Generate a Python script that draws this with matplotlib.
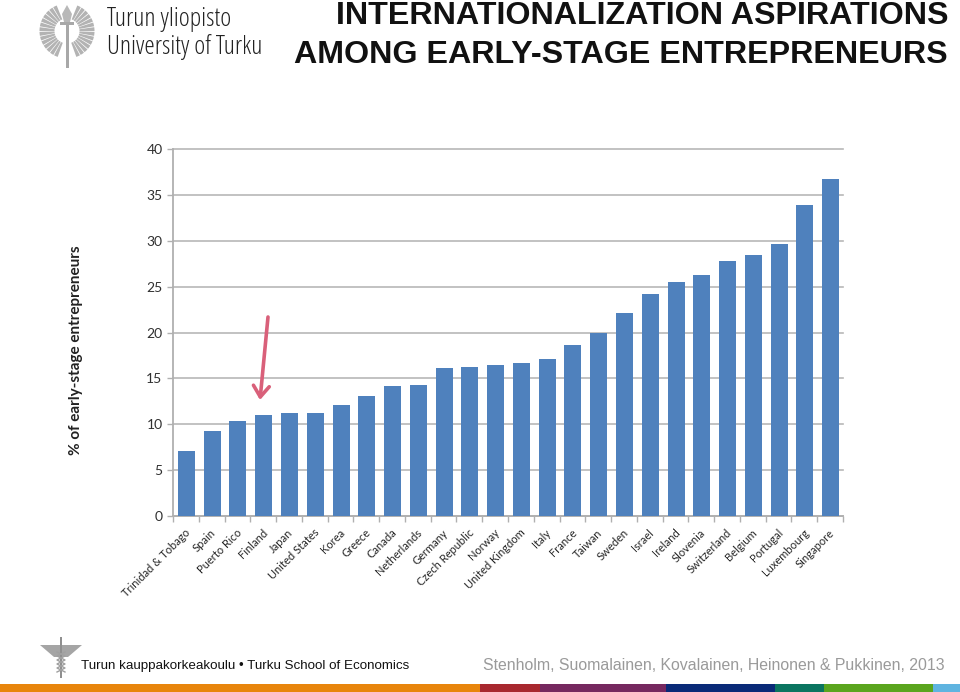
import numpy as np
import matplotlib
matplotlib.use("Agg")
import matplotlib.pyplot as plt
from matplotlib.patches import Rectangle, Wedge, FancyArrowPatch, Polygon

countries = ["Trinidad & Tobago", "Spain", "Puerto Rico", "Finland", "Japan", "United States", "Korea",
             "Greece", "Canada", "Netherlands", "Germany", "Czech Republic", "Norway", "United Kingdom",
             "Italy", "France", "Taiwan", "Sweden", "Israel", "Ireland", "Slovenia", "Switzerland",
             "Belgium", "Portugal", "Luxembourg", "Singapore"]
values = [7.1, 9.3, 10.4, 11.0, 11.2, 11.2, 12.1, 13.1, 14.2, 14.3, 16.1, 16.2, 16.5, 16.7,
          17.1, 18.6, 20.0, 22.1, 24.2, 25.5, 26.3, 27.8, 28.4, 29.7, 33.9, 36.7]
y_ticks = [0, 5, 10, 15, 20, 25, 30, 35, 40]
title_lines = ["INTERNATIONALIZATION ASPIRATIONS", "AMONG EARLY-STAGE ENTREPRENEURS"]
y_label = "% of early-stage entrepreneurs"

W, H = 960, 692
fig = plt.figure(figsize=(W / 100, H / 100), dpi=100, facecolor="white")

ov = fig.add_axes([0, 0, 1, 1], zorder=5)
ov.set_xlim(0, W); ov.set_ylim(H, 0); ov.axis("off"); ov.patch.set_alpha(0)

ax = fig.add_axes([173 / W, 1 - 516 / H, 670 / W, 367 / H])
x = np.arange(len(countries))
ax.bar(x + 0.02, values, width=0.66, color="#4f81bd", zorder=3)
ax.set_xlim(-0.5, len(countries) - 0.5)
ax.set_ylim(0, 40)
ax.set_yticks(y_ticks)
ax.set_yticklabels([str(v) for v in y_ticks], family="Lato")
ax.set_xticks(np.arange(len(countries) + 1) - 0.5)
ax.set_xticklabels([])
ax.grid(axis="y", color="#b8b8b8", lw=1.2, zorder=1)
for gl in ax.get_ygridlines():
    gl.set_clip_on(False)
for s in ["top", "right"]:
    ax.spines[s].set_visible(False)
for s in ["left", "bottom"]:
    ax.spines[s].set_color("#b0b0b0"); ax.spines[s].set_linewidth(1.3)
ax.tick_params(axis="x", length=4, color="#b0b0b0", width=1)
ax.tick_params(axis="y", length=4, color="#b0b0b0", width=1, labelsize=10, labelcolor="#303030", pad=3.5)
for xi, name in zip(x, countries):
    ax.annotate(name, xy=(xi, 0), xycoords=("data", "axes fraction"), xytext=(-1, -8),
                textcoords="offset points", rotation=45, ha="right", va="top",
                rotation_mode="anchor", fontsize=8.0, family="Lato", color="#262626")
ov.text(76, 350, y_label, rotation=90, ha="center", va="center",
        fontsize=11, fontweight="bold", family="Lato", color="#222222")

ov.add_patch(FancyArrowPatch((268, 317), (260, 400), arrowstyle="->,head_length=3.6,head_width=2.6",
                             color="#d9607a", lw=2.6, mutation_scale=2.2, shrinkA=0, shrinkB=0))

for yy, line in zip([24.5, 63], title_lines):
    ov.text(948, yy, line, ha="right", va="baseline", fontsize=23.2, fontweight="bold",
            family="Liberation Sans", color="#111111", clip_on=False)

cx, cy = 67, 31
logo_grey = "#b3b3b3"
for a0 in range(-68, 70, 10):
    ov.add_patch(Wedge((cx, cy), 27.5, a0, a0 + 8.2, width=15, color=logo_grey, lw=0))
    ov.add_patch(Wedge((cx, cy), 27.5, 180 - a0 - 8.2, 180 - a0, width=15, color=logo_grey, lw=0))
ov.add_patch(Rectangle((65.5, 22), 3, 46, color="#a8a8a8", lw=0))
ov.add_patch(Polygon([[67, 5], [72, 14], [70, 22], [64, 22], [62, 14]], color="#b8b8b8", lw=0))
ov.add_patch(Rectangle((60, 22), 14, 3, color="#a8a8a8", lw=0))
ov.text(107, 20, "Turun yliopisto", ha="left", va="center", fontsize=18.9, family="Open Sans",
        color="#222222", stretch="condensed")
ov.text(107, 47, "University of Turku", ha="left", va="center", fontsize=18.9, family="Open Sans",
        color="#222222", stretch="condensed")

gx = 61
ov.add_patch(Rectangle((gx - 0.7, 637), 1.4, 41, color="#8f8f8f", lw=0))
ov.add_patch(Polygon([[40, 645], [60, 645], [60, 657], [54, 657]], color="#a5a5a5", lw=0))
ov.add_patch(Polygon([[82, 645], [62, 645], [62, 657], [68, 657]], color="#a5a5a5", lw=0))
t = np.arange(6)
ov.plot(gx + np.array([-4, 4, -4, 4, -4, 4]), 652 + 4 * t, color="#a0a0a0", lw=1)
ov.plot(gx + np.array([4, -4, 4, -4, 4, -4]), 652 + 4 * t, color="#a0a0a0", lw=1)

ov.text(81, 665.5, "Turun kauppakorkeakoulu • Turku School of Economics", ha="left", va="center",
        fontsize=9.6, family="Liberation Sans", color="#111111")
ov.text(945, 666, "Stenholm, Suomalainen, Kovalainen, Heinonen & Pukkinen, 2013", ha="right", va="center",
        fontsize=11.47, family="Liberation Sans", color="#9a9a9a")

band_edges = [0, 480, 540, 666, 775, 824, 933, 960]
band_colors = ["#e8850c", "#a8282f", "#76285f", "#0a2a78", "#0b7560", "#5aa51e", "#5fb4e0"]
for a, b, c in zip(band_edges[:-1], band_edges[1:], band_colors):
    ov.add_patch(Rectangle((a, 684), b - a, 8, color=c, lw=0))

fig.savefig("out.png", dpi=100, facecolor="white")
